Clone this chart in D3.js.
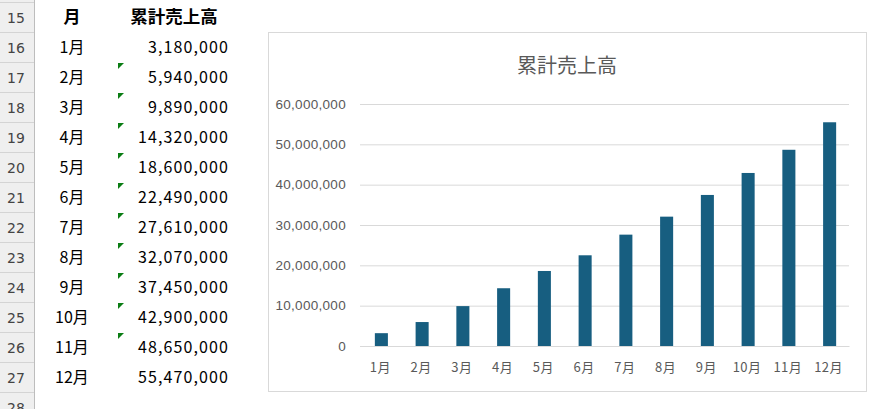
<!DOCTYPE html>
<html><head><meta charset="utf-8">
<script src="https://cdn.jsdelivr.net/npm/d3@7"></script>
<style>
html,body{margin:0;padding:0;background:#fff;}
svg{display:block;}
</style></head>
<body>
<svg id="c" width="891" height="409"></svg>
<script>
const rowNumbers = [15,16,17,18,19,20,21,22,23,24,25,26,27,28];
const months = ["1月","2月","3月","4月","5月","6月","7月","8月","9月","10月","11月","12月"];
const sales = [3180000,5940000,9890000,14320000,18600000,22490000,27610000,32070000,37450000,42900000,48650000,55470000];
const flagged = [false,true,true,true,true,true,true,true,true,true,true,false];
const headers = ["月","累計売上高"];
const chartTitle = "累計売上高";
const yTicks = [0,10000000,20000000,30000000,40000000,50000000,60000000];

const svg = d3.select("#c");
const fmt = d3.format(",");
const jp = "'Noto Sans CJK JP','Noto Sans',sans-serif";

// ---------- spreadsheet part ----------
const rowY = d3.scaleLinear().domain([15,16]).range([2,32]); // top of row
const rowH = 30;
svg.append("rect").attr("x",0).attr("y",0).attr("width",34).attr("height",409).attr("fill","#efefef");
svg.append("line").attr("x1",34.5).attr("x2",34.5).attr("y1",0).attr("y2",409).attr("stroke","#bdbdbd");
rowNumbers.forEach(r=>{
  svg.append("line").attr("x1",0).attr("x2",34).attr("y1",rowY(r)+0.5).attr("y2",rowY(r)+0.5).attr("stroke","#d4d4d4");
  svg.append("text").attr("x",16).attr("y",rowY(r)+rowH/2+5.5).attr("text-anchor","middle")
    .attr("font-family","'Segoe UI','DejaVu Sans',sans-serif").attr("font-size",14).attr("fill","#444").text(r);
});
svg.append("text").attr("x",72).attr("y",rowY(15)+rowH/2+6).attr("text-anchor","middle")
  .attr("font-family",jp).attr("font-size",17).attr("font-weight","bold").attr("fill","#000").text(headers[0]);
svg.append("text").attr("x",174).attr("y",rowY(15)+rowH/2+6).attr("text-anchor","middle")
  .attr("font-family",jp).attr("font-size",17.5).attr("font-weight","bold").attr("fill","#000").text(headers[1]);
months.forEach((m,i)=>{
  const top = rowY(16+i);
  svg.append("text").attr("x",72).attr("y",top+rowH/2+6).attr("text-anchor","middle")
    .attr("font-family",jp).attr("font-size",16).attr("fill","#000").text(m);
  svg.append("text").attr("x",229).attr("y",top+rowH/2+6).attr("text-anchor","end")
    .attr("font-family",jp).attr("font-size",16).attr("letter-spacing",1.1).attr("fill","#000").text(fmt(sales[i]));
  if(flagged[i]){
    svg.append("path").attr("d",`M118,${top+1}L124,${top+1}L118,${top+7}Z`).attr("fill","#0b7d14");
  }
});

// ---------- chart ----------
svg.append("rect").attr("x",268.5).attr("y",32.5).attr("width",598).attr("height",359)
  .attr("fill","#fff").attr("stroke","#d9d9d9");
svg.append("text").attr("x",567).attr("y",73).attr("text-anchor","middle")
  .attr("font-family",jp).attr("font-size",20).attr("fill","#595959").text(chartTitle);

const x = d3.scaleBand().domain(months).range([360,849]).paddingInner(0.68).paddingOuter(0.34);
const y = d3.scaleLinear().domain([0,60000000]).range([346,104]);

const yAxis = svg.append("g").attr("transform","translate(360,0)")
  .call(d3.axisLeft(y).tickValues(yTicks).tickFormat(fmt).tickSize(-489).tickPadding(14));
yAxis.select(".domain").remove();
yAxis.selectAll("line").attr("stroke","#d9d9d9");
yAxis.selectAll("text").attr("font-family","'Liberation Sans',Arial,sans-serif").attr("font-size",13.5).attr("letter-spacing",0.3).attr("fill","#595959");

svg.append("g").selectAll("rect").data(sales).join("rect")
  .attr("x",(d,i)=>x(months[i])+1).attr("width",x.bandwidth())
  .attr("y",d=>y(d)).attr("height",d=>y(0)-y(d)).attr("fill","#175e80");

const xAxis = svg.append("g").attr("transform","translate(0,346)")
  .call(d3.axisBottom(x).tickSize(0).tickPadding(17));
xAxis.select(".domain").attr("stroke","#d9d9d9");
xAxis.selectAll("text").attr("font-family",jp).attr("font-size",13).attr("letter-spacing",0.5).attr("fill","#595959");
</script>
</body></html>
